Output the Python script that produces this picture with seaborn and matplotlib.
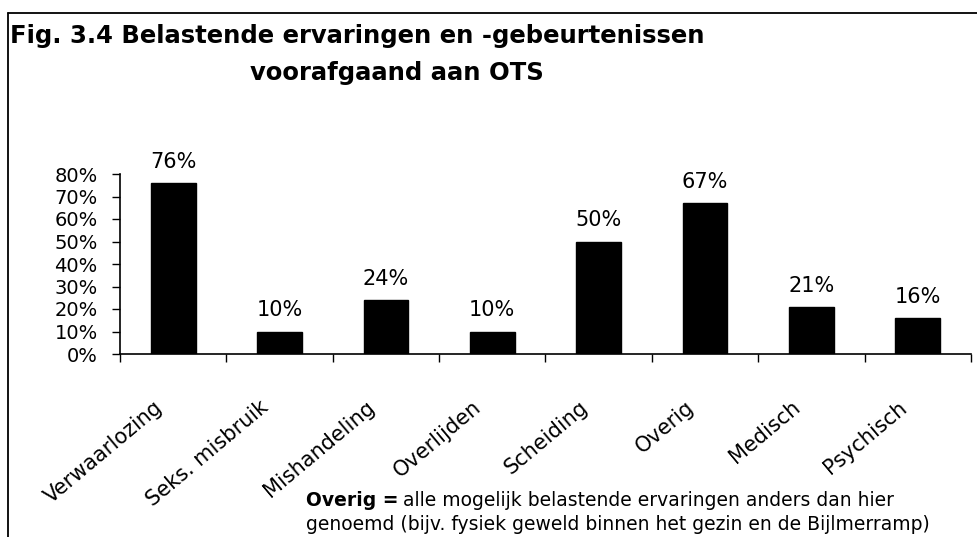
import numpy as np
import pandas as pd
import matplotlib
matplotlib.use("Agg")
import matplotlib.pyplot as plt
import matplotlib.transforms as mtransforms
import seaborn as sns
from matplotlib.lines import Line2D

categories = ["Verwaarlozing", "Seks. misbruik", "Mishandeling", "Overlijden",
              "Scheiding", "Overig", "Medisch", "Psychisch"]
values = [76, 10, 24, 10, 50, 67, 21, 16]
yticks = [0, 10, 20, 30, 40, 50, 60, 70, 80]

sns.set_style("white")
plt.rcParams["font.family"] = ["DejaVu Sans"]
for key in ["text.color", "xtick.color", "ytick.color", "axes.labelcolor",
            "axes.edgecolor"]:
    plt.rcParams[key] = "black"

df = pd.DataFrame({"cat": categories, "val": values})

W, H = 978, 537
fig = plt.figure(figsize=(W / 100, H / 100), dpi=100)
ax = fig.add_axes([120 / W, 1 - 354 / H, 851 / W, 180 / H])

sns.barplot(data=df, x="cat", y="val", color="black", width=0.42,
            saturation=1, ax=ax)
for p in ax.patches:
    p.set_edgecolor("black")

ax.set_ylim(0, 80)
ax.set_xlim(-0.5, len(categories) - 0.5)
ax.set_yticks(yticks)
ax.set_yticklabels([f"{v}%" for v in yticks], fontsize=14)
ax.set_xlabel("")
ax.set_ylabel("")

# labels at bar centres, tick marks between categories
ax.set_xticks(np.arange(len(categories)))
ax.set_xticklabels(categories, rotation=40, ha="right",
                   rotation_mode="anchor", fontsize=15)
ax.tick_params(axis="x", which="major", bottom=True, length=0, pad=31)
shift = mtransforms.ScaledTranslation(-0.20, 0, fig.dpi_scale_trans)
for lbl in ax.get_xticklabels():
    lbl.set_transform(lbl.get_transform() + shift)
ax.set_xticks(np.arange(len(categories) + 1) - 0.5, minor=True)
ax.tick_params(axis="x", which="minor", bottom=True, length=6, width=1,
               direction="out")
ax.tick_params(axis="y", left=True, length=6, width=1, direction="out", pad=10)

for side in ["top", "right"]:
    ax.spines[side].set_visible(False)
for side in ["left", "bottom"]:
    ax.spines[side].set_linewidth(1.2)

for c in ax.containers:
    ax.bar_label(c, labels=[f"{v}%" for v in values], padding=8, fontsize=15)

# title
fig.text(10 / W, 1 - 43 / H, "Fig. 3.4 Belastende ervaringen en -gebeurtenissen",
         fontsize=17.5, fontweight="bold", va="baseline", ha="left")
fig.text(250 / W, 1 - 80 / H, "voorafgaand aan OTS",
         fontsize=17.5, fontweight="bold", va="baseline", ha="left")

# footnote
t_bold = fig.text(306 / W, 1 - 506 / H, "Overig =", fontsize=13.5,
                  fontweight="bold", va="baseline", ha="left")
fig.canvas.draw()
bb = t_bold.get_window_extent()
fig.text((bb.x1 + 5) / W, 1 - 506 / H,
         "alle mogelijk belastende ervaringen anders dan hier",
         fontsize=13.5, va="baseline", ha="left")
fig.text(306 / W, 1 - 530 / H,
         "genoemd (bijv. fysiek geweld binnen het gezin en de Bijlmerramp)",
         fontsize=13.5, va="baseline", ha="left")

# frame around the figure (top and left)
fig.add_artist(Line2D([8 / W, 1], [1 - 13 / H, 1 - 13 / H],
                      color="black", lw=1.3, transform=fig.transFigure))
fig.add_artist(Line2D([8 / W, 8 / W], [0, 1 - 13 / H],
                      color="black", lw=1.3, transform=fig.transFigure))

fig.savefig("out.png", dpi=100)
